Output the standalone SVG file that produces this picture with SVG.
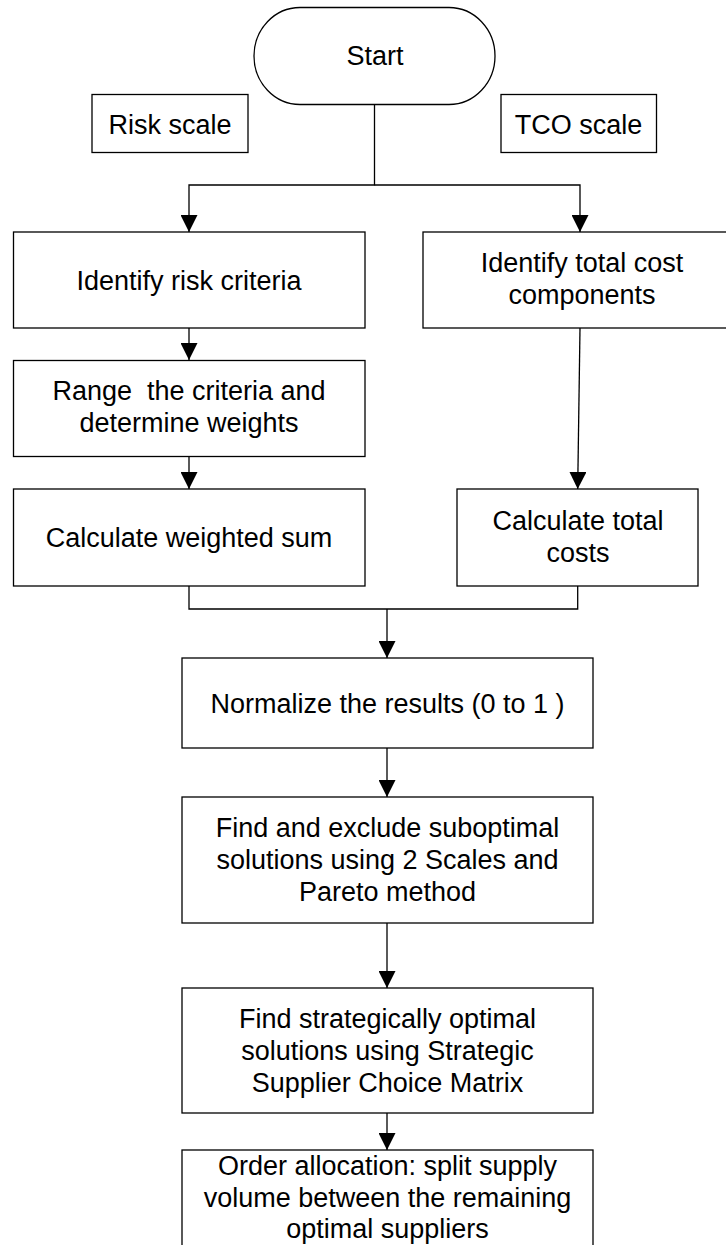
<svg xmlns="http://www.w3.org/2000/svg" width="726" height="1245" viewBox="0 0 726 1245">
<style>
.box{fill:#fff;stroke:#000;stroke-width:1.3}
.t{font-family:"Liberation Sans",Arial,sans-serif;font-size:27px;fill:#000;text-anchor:middle}
.c{fill:none;stroke:#000;stroke-width:1.3}
</style>
<defs>
<marker id="ah" viewBox="0 0 17 17" refX="17" refY="8.5" markerWidth="17" markerHeight="17" orient="auto" markerUnits="userSpaceOnUse">
<path d="M0,0 L17,8.5 L0,17 Z" fill="#000"/>
</marker>
</defs>
<rect width="726" height="1245" fill="#fff"/>
<g id="connectors">
<path class="c" d="M374.5,105 V185 H189 V232" marker-end="url(#ah)"/>
<path class="c" d="M374.5,185 H580 V232" marker-end="url(#ah)"/>
<path class="c" d="M189,328 V360" marker-end="url(#ah)"/>
<path class="c" d="M189,457 V489" marker-end="url(#ah)"/>
<path class="c" d="M580,328 L577.7,489" marker-end="url(#ah)"/>
<path class="c" d="M189,586 V609 H577.7 V586"/>
<path class="c" d="M387,609 V658" marker-end="url(#ah)"/>
<path class="c" d="M387,748 V797" marker-end="url(#ah)"/>
<path class="c" d="M387,923 V988" marker-end="url(#ah)"/>
<path class="c" d="M387,1113 V1150" marker-end="url(#ah)"/>
</g>
<g id="start">
<rect class="box" x="254" y="7.5" width="241" height="97" rx="46" ry="48.5"/>
<text class="t" x="375" y="64.5">Start</text>
</g>
<g id="risk-scale">
<rect class="box" x="92" y="94.5" width="156" height="58"/>
<text class="t" x="170" y="133.5">Risk scale</text>
</g>
<g id="tco-scale">
<rect class="box" x="501" y="94.5" width="155.5" height="58"/>
<text class="t" x="578.5" y="133.5">TCO scale</text>
</g>
<g id="identify-risk">
<rect class="box" x="13.5" y="232" width="351.5" height="96"/>
<text class="t" x="189" y="290">Identify risk criteria</text>
</g>
<g id="identify-cost">
<rect class="box" x="423" y="232" width="320" height="96"/>
<text class="t" x="582" y="272">Identify total cost</text>
<text class="t" x="582" y="303.5">components</text>
</g>
<g id="range">
<rect class="box" x="13.5" y="360.5" width="351.5" height="96"/>
<text class="t" x="189" y="400" xml:space="preserve">Range  the criteria and</text>
<text class="t" x="189" y="431.5">determine weights</text>
</g>
<g id="weighted-sum">
<rect class="box" x="13.5" y="489" width="351.5" height="97"/>
<text class="t" x="189" y="546.5">Calculate weighted sum</text>
</g>
<g id="total-costs">
<rect class="box" x="457" y="489" width="241" height="97"/>
<text class="t" x="578" y="530">Calculate total</text>
<text class="t" x="578" y="561.5">costs</text>
</g>
<g id="normalize">
<rect class="box" x="182" y="658" width="411" height="90"/>
<text class="t" x="387.5" y="712.5" xml:space="preserve">Normalize the results (0 to 1 )</text>
</g>
<g id="pareto">
<rect class="box" x="182" y="797" width="411" height="126"/>
<text class="t" x="387.5" y="836.5">Find and exclude suboptimal</text>
<text class="t" x="387.5" y="868.5">solutions using 2 Scales and</text>
<text class="t" x="387.5" y="900.5">Pareto method</text>
</g>
<g id="strategic">
<rect class="box" x="182" y="988" width="411" height="125"/>
<text class="t" x="387.5" y="1028">Find strategically optimal</text>
<text class="t" x="387.5" y="1060">solutions using Strategic</text>
<text class="t" x="387.5" y="1091.5">Supplier Choice Matrix</text>
</g>
<g id="allocation">
<rect class="box" x="182" y="1150" width="411" height="110"/>
<text class="t" x="387.5" y="1175">Order allocation: split supply</text>
<text class="t" x="387.5" y="1206.5">volume between the remaining</text>
<text class="t" x="387.5" y="1238">optimal suppliers</text>
</g>
</svg>
